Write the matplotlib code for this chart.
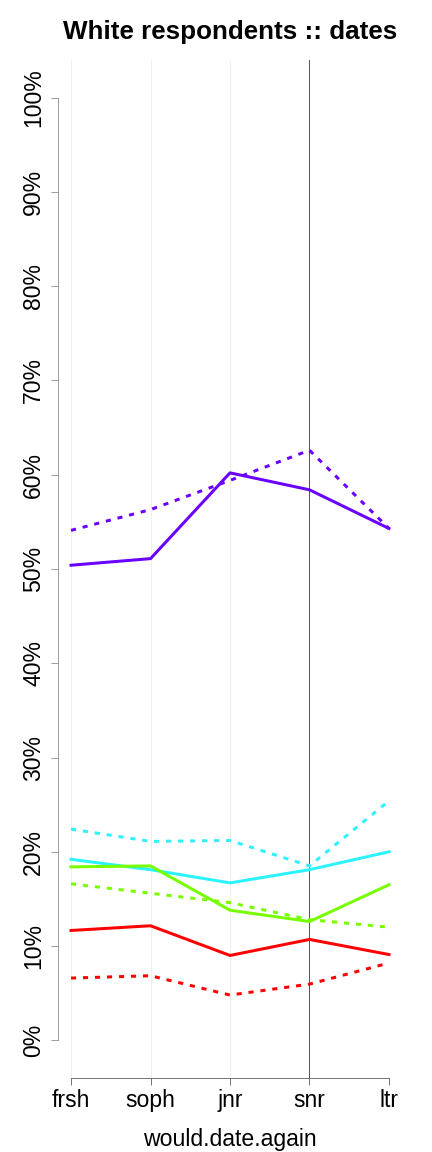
import matplotlib.pyplot as plt

plt.rcParams['font.family'] = ['Liberation Sans', 'DejaVu Sans']

years = ["frsh", "soph", "jnr", "snr", "ltr"]
x = [1, 2, 3, 4, 5]

purple_solid = [50.4, 51.1, 60.2, 58.4, 54.3]
purple_dotted = [54.1, 56.3, 59.4, 62.6, 54.3]
cyan_solid = [19.2, 18.1, 16.7, 18.1, 20.0]
cyan_dotted = [22.4, 21.1, 21.2, 18.5, 25.4]
green_solid = [18.4, 18.5, 13.8, 12.6, 16.5]
green_dotted = [16.6, 15.6, 14.6, 12.8, 12.0]
red_solid = [11.65, 12.15, 9.0, 10.7, 9.1]
red_dotted = [6.6, 6.85, 4.8, 5.96, 8.2]

yticks = [0, 10, 20, 30, 40, 50, 60, 70, 80, 90, 100]

fig = plt.figure(figsize=(6, 16), dpi=72)
ax = fig.add_axes([58.3 / 432, 1 - 1078 / 1152, (401.7 - 58.3) / 432, (1078 - 60) / 1152])

# background verticals
for xv in [1, 2, 3]:
    ax.axvline(xv, color="#f0efe0", lw=1, zorder=0)
ax.axvline(4, color="#555555", lw=1, zorder=0)

dot = (0, (1.7, 2.3))
lw = 3
ax.plot(x, purple_solid, color="#6a00ff", lw=lw)
ax.plot(x, purple_dotted, color="#6a00ff", lw=lw, ls=dot)
ax.plot(x, cyan_solid, color="#2af2ff", lw=lw)
ax.plot(x, cyan_dotted, color="#2af2ff", lw=lw, ls=dot)
ax.plot(x, green_solid, color="#77ff00", lw=lw)
ax.plot(x, green_dotted, color="#77ff00", lw=lw, ls=dot)
ax.plot(x, red_solid, color="#ff0000", lw=lw)
ax.plot(x, red_dotted, color="#ff0000", lw=lw, ls=dot)

ax.set_xlim(0.84, 5.16)
ax.set_ylim(-4, 104)

ax.set_xticks(x)
ax.set_xticklabels(years, fontsize=23)
ax.set_yticks(yticks)
ax.set_yticklabels([str(v) + "%" for v in yticks], fontsize=23, rotation=90, va="center")

for s in ["top", "right"]:
    ax.spines[s].set_visible(False)
ax.spines["left"].set_bounds(0, 100)
ax.spines["bottom"].set_bounds(1, 5)
ax.spines["left"].set_color("#888888")
ax.spines["bottom"].set_color("#555555")
ax.tick_params(axis="y", length=7, color="#888888", pad=6)
ax.tick_params(axis="x", length=7, color="#555555", pad=4)

ax.set_xlabel("would.date.again", fontsize=23, labelpad=16)
fig.text(230 / 432, 1 - 32 / 1152, "White respondents :: dates", fontsize=26, fontweight="bold",
         ha="center", va="center")

fig.savefig("out.png", dpi=72)
